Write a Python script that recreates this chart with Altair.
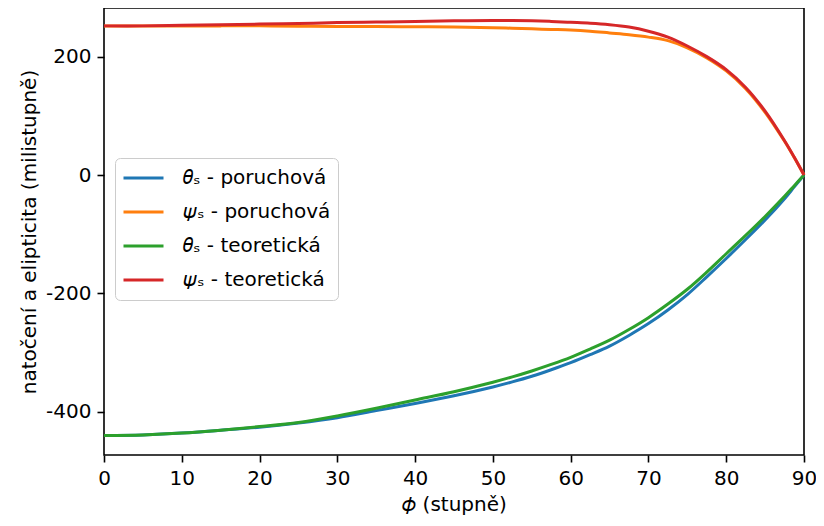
import altair as alt
import pandas as pd

deg = [0, 5, 10, 15, 20, 25, 30, 35, 40, 45, 50, 52.5, 55, 57.5, 60, 62.5, 65, 67.5, 70, 72.5, 75, 77.5, 80, 82.5, 85, 87.5, 88.75, 90]

theta_por = [-440, -439, -436, -431, -426, -419, -410, -398, -386, -373, -358, -349.5, -340, -329, -317, -303.5, -289, -271, -251, -228, -202, -172, -141, -109, -76, -40, -20, 0]
psi_por = [252, 252, 252, 252, 252, 251.5, 251, 251, 250.5, 250, 249, 248, 247, 246, 245, 243, 240, 237, 233, 227, 215, 198, 176, 146, 106, 57, 29.5, 0]
theta_teor = [-440, -439, -436, -431, -425, -418, -407, -394, -380, -366, -350, -341, -331, -320, -308, -294, -279, -261, -241, -218, -193, -164, -133, -102, -70, -36, -18, 0]
psi_teor = [252, 252, 253, 254, 255, 256, 257.5, 258.5, 259.5, 260.5, 261, 261, 260.5, 259.5, 258, 256.5, 254, 250, 243, 233, 218, 200, 178, 148, 108, 58, 30, 0]

labels = ["𝜃ₛ - poruchová", "𝜓ₛ - poruchová", "𝜃ₛ - teoretická", "𝜓ₛ - teoretická"]
colors = ["#1f77b4", "#ff7f0e", "#2ca02c", "#d62728"]
series = [theta_por, psi_por, theta_teor, psi_teor]

rows = []
for lab, vals in zip(labels, series):
    for d, v in zip(deg, vals):
        rows.append({"phi": d, "val": v, "serie": lab})
df = pd.DataFrame(rows)

FONT = "DejaVu Sans"

chart = alt.Chart(df).mark_line(strokeWidth=3, interpolate="catmull-rom").encode(
    x=alt.X("phi:Q", scale=alt.Scale(domain=[0, 90], nice=False, zero=False),
            axis=alt.Axis(title="𝜙 (stupně)", values=list(range(0, 91, 10)))),
    y=alt.Y("val:Q", scale=alt.Scale(domain=[-473, 282.2], nice=False, zero=False),
            axis=alt.Axis(title="natočení a elipticita (milistupně)", values=[-400, -200, 0, 200],
                          labelExpr="toString(datum.value)")),
    color=alt.Color("serie:N", scale=alt.Scale(domain=labels, range=colors),
                    legend=alt.Legend(title=None, orient="none", legendX=11, legendY=150,
                                      symbolType="stroke", symbolSize=1600, symbolStrokeWidth=3,
                                      labelFontSize=20, labelFont=FONT, labelOffset=18,
                                      clipHeight=26, rowPadding=8, padding=7, cornerRadius=5,
                                      strokeColor="#cccccc", fillColor="white")),
).properties(
    width=700, height=447,
    autosize=alt.AutoSizeParams(type="none"),
    padding={"left": 96, "top": 0, "right": 12, "bottom": 63},
).configure_view(
    stroke="black", strokeWidth=1.6
).configure_axis(
    domain=False, grid=False, tickColor="black", tickWidth=1.6, tickSize=7,
    labelFont=FONT, labelFontSize=20, labelColor="black", labelPadding=6,
    titleFont=FONT, titleFontSize=20, titleFontWeight="normal", titleColor="black", titlePadding=6,
    labelFlush=False, labelOverlap=False
)

chart.save("out.html", embed_options={"renderer": "svg", "actions": False})
